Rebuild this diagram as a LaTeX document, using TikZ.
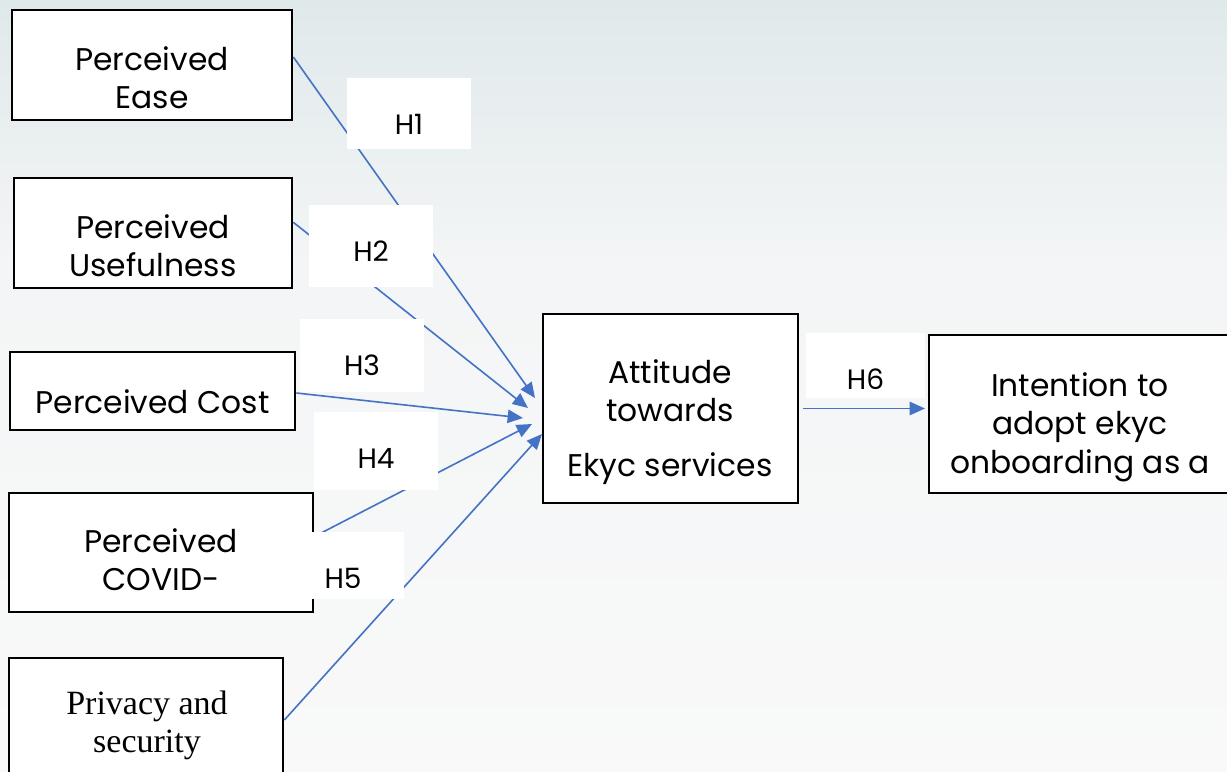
\documentclass[tikz,border=0pt]{standalone}
\usepackage{fontspec}
\setmainfont{Poppins}
\newfontfamily\boxserif{Liberation Serif}
\usetikzlibrary{arrows.meta}

\begin{document}
\begin{tikzpicture}[x=0.75pt, y=-0.75pt, >={Triangle[length=11.5pt, width=10pt]}]

\definecolor{linkblue}{RGB}{68, 114, 196}
\definecolor{bgtop}{RGB}{224, 233, 234}
\definecolor{bgmid}{RGB}{243, 245, 246}
\definecolor{bgbot}{RGB}{249, 249, 249}

\tikzset{
    factor/.style={
        draw=black, line width=2pt, fill=white,
        rectangle, inner sep=0pt
    },
    factortext/.style={
        anchor=north, inner sep=0pt, align=center,
        font=\fontsize{23.5}{29}\selectfont
    },
    hyp/.style={
        fill=white, inner sep=0pt, anchor=north,
        minimum width=93pt, text height=42pt,
        font=\fontsize{21}{24}\selectfont
    },
    link/.style={
        draw=linkblue, line width=1.2pt, ->
    }
}

% Background wash
\useasboundingbox (0,0) rectangle (1227,771);
\shade[top color=bgtop, bottom color=bgmid] (0,0) rectangle (1227,260);
\shade[top color=bgmid, bottom color=bgbot] (0,260) rectangle (1227,771);

% --- LEFT COLUMN: THE FIVE FACTORS ---
\node[factor, minimum width=210pt, minimum height=82.5pt] (ease) at (152,65) {};
\node[factortext] (ease-t) at (152,46) {Perceived\\Ease};

\node[factor, minimum width=208.5pt, minimum height=82.5pt] (useful) at (153,233) {};
\node[factortext] (useful-t) at (153,214) {Perceived\\Usefulness};

\node[factor, minimum width=213.75pt, minimum height=58.5pt] (cost) at (152.5,391) {};
\node[factortext] (cost-t) at (152.5,389) {Perceived Cost};

\node[factor, minimum width=228pt, minimum height=89.25pt] (covid) at (161,552.5) {};
\node[factortext] (covid-t) at (161,528) {Perceived\\COVID-};

\node[factor, minimum width=205.5pt, minimum height=93pt] (privacy) at (146,720) {};
\node[factortext, font=\boxserif\fontsize{25.5}{28.5}\selectfont] (privacy-t) at (147,691) {Privacy and\\security};

% --- MIDDLE AND RIGHT: ATTITUDE AND INTENTION ---
\node[factor, minimum width=191.25pt, minimum height=141.75pt] (att) at (670.5,408.5) {};
\node[factortext] (att-t) at (670,359) {Attitude\\towards\\[12pt]Ekyc services};

\node[factor, minimum width=226.5pt, minimum height=118.5pt] (intent) at (1080,414) {};
\node[factortext] (intent-t) at (1080,372) {Intention to\\adopt ekyc\\onboarding as a};

% Arrow tips on the attitude box
\coordinate (t1) at (535,398);
\coordinate (t2) at (528,408);
\coordinate (t3) at (523,418);
\coordinate (t4) at (532,424);
\coordinate (t5) at (542,434);

\draw[link] ([yshift=6pt]ease.east) -- (t1);
\draw[link] ([yshift=8pt]useful.east) -- (t2);
\draw[link] ([yshift=-1.5pt]cost.east) -- (t3);
\draw[link] ([yshift=12pt]covid.east) -- (t4);
\draw[link] (privacy.east) -- (t5);
\draw[link, shorten <=3pt, shorten >=2pt] (att.east) -- (att.east -| intent.west);

% Hypothesis tags (sit on top of the links)
\node[hyp, text depth=11.25pt] (h1) at (409,78) {H1};
\node[hyp, text depth=19.5pt] (h2) at (371,205) {H2};
\node[hyp, text depth=12.75pt] (h3) at (362,319) {H3};
\node[hyp, text depth=16.5pt] (h4) at (376,412) {H4};
\node[hyp, text depth=8.25pt, minimum width=91.5pt] (h5) at (343,532) {H5};
\node[hyp, text depth=6.75pt, minimum width=89pt] (h6) at (865.5,333) {H6};

\end{tikzpicture}
\end{document}
